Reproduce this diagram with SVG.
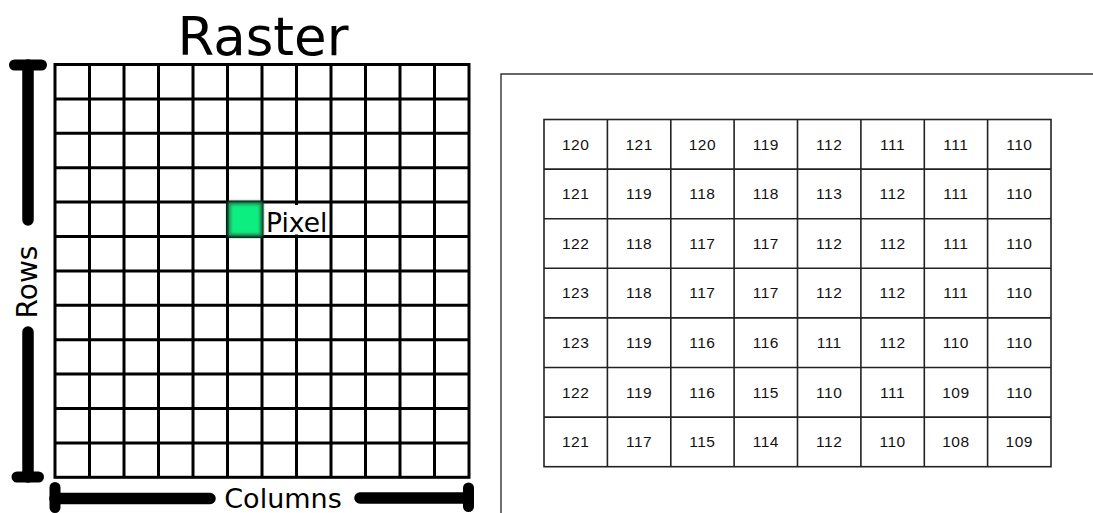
<svg xmlns="http://www.w3.org/2000/svg" width="1093" height="513" viewBox="0 0 1093 513">
<style>
.lbl{font-family:"DejaVu Sans",sans-serif;fill:#000}
.g{stroke:#000;stroke-width:3;fill:none}
.bar{stroke:#000;stroke-linecap:round;fill:none}
.t{stroke:#222;stroke-width:1.6;fill:none}
.n{font-family:"Liberation Sans",Arial,sans-serif;font-size:15.5px;fill:#111;text-anchor:middle;letter-spacing:0.5px}
</style>
<defs>
<filter id="blur1" x="-30%" y="-30%" width="160%" height="160%"><feGaussianBlur stdDeviation="1.6"/></filter>
</defs>
<rect width="1093" height="513" fill="#fff"/>
<g id="raster">
<text class="lbl" x="263" y="55" font-size="53" text-anchor="middle">Raster</text>
<g id="grid" class="g">
<rect x="55" y="64.5" width="414" height="412.8"/>
<path d="M89.5 64.5V477.3M124 64.5V477.3M158.5 64.5V477.3M193 64.5V477.3M227.5 64.5V477.3M262 64.5V477.3M296.5 64.5V477.3M331 64.5V477.3M365.5 64.5V477.3M400 64.5V477.3M434.5 64.5V477.3"/>
<path d="M55 98.9H469M55 133.3H469M55 167.7H469M55 202.1H469M55 236.5H469M55 270.9H469M55 305.3H469M55 339.7H469M55 374.1H469M55 408.5H469M55 442.9H469"/>
</g>
<g id="pixel">
<rect x="227.5" y="201.5" width="35.5" height="35.5" fill="#1a7a4a" filter="url(#blur1)"/>
<rect x="230.5" y="204.5" width="29.5" height="29.5" fill="#10ee80" filter="url(#blur1)"/>
<rect x="265" y="205" width="64" height="29.5" fill="#fff"/>
<text class="lbl" x="266" y="231.5" font-size="26.5">Pixel</text>
</g>
</g>
<g id="rows-axis">
<path class="bar" stroke-width="11.5" d="M28 65V220M28 332V477"/>
<path class="bar" stroke-width="11" d="M14.5 65H41.5M17 477H38.5"/>
<text class="lbl" font-size="28" text-anchor="middle" transform="translate(37,282) rotate(-90)">Rows</text>
</g>
<g id="columns-axis">
<path class="bar" stroke-width="11.5" d="M55 498.5H210M360 498H468"/>
<path class="bar" stroke-width="11" d="M55 487.5V507.5M468.5 488V506.5"/>
<text class="lbl" x="283" y="508" font-size="27" text-anchor="middle">Columns</text>
</g>
<g id="frame">
<path d="M501 513V74H1093" stroke="#333" stroke-width="1.4" fill="none"/>
</g>
<g id="table">
<g class="t">
<rect x="544" y="119.5" width="507" height="347.2"/>
<path d="M607.4 119.5V466.7M670.8 119.5V466.7M734.1 119.5V466.7M797.5 119.5V466.7M860.9 119.5V466.7M924.3 119.5V466.7M987.6 119.5V466.7"/>
<path d="M544 169.1H1051M544 218.7H1051M544 268.3H1051M544 317.9H1051M544 367.5H1051M544 417.1H1051"/>
</g>
<g>
<text class="n" x="575.7" y="149.6">120</text><text class="n" x="639.1" y="149.6">121</text><text class="n" x="702.4" y="149.6">120</text><text class="n" x="765.8" y="149.6">119</text><text class="n" x="829.2" y="149.6">112</text><text class="n" x="892.6" y="149.6">111</text><text class="n" x="955.9" y="149.6">111</text><text class="n" x="1019.3" y="149.6">110</text>
<text class="n" x="575.7" y="199.2">121</text><text class="n" x="639.1" y="199.2">119</text><text class="n" x="702.4" y="199.2">118</text><text class="n" x="765.8" y="199.2">118</text><text class="n" x="829.2" y="199.2">113</text><text class="n" x="892.6" y="199.2">112</text><text class="n" x="955.9" y="199.2">111</text><text class="n" x="1019.3" y="199.2">110</text>
<text class="n" x="575.7" y="248.8">122</text><text class="n" x="639.1" y="248.8">118</text><text class="n" x="702.4" y="248.8">117</text><text class="n" x="765.8" y="248.8">117</text><text class="n" x="829.2" y="248.8">112</text><text class="n" x="892.6" y="248.8">112</text><text class="n" x="955.9" y="248.8">111</text><text class="n" x="1019.3" y="248.8">110</text>
<text class="n" x="575.7" y="298.4">123</text><text class="n" x="639.1" y="298.4">118</text><text class="n" x="702.4" y="298.4">117</text><text class="n" x="765.8" y="298.4">117</text><text class="n" x="829.2" y="298.4">112</text><text class="n" x="892.6" y="298.4">112</text><text class="n" x="955.9" y="298.4">111</text><text class="n" x="1019.3" y="298.4">110</text>
<text class="n" x="575.7" y="348">123</text><text class="n" x="639.1" y="348">119</text><text class="n" x="702.4" y="348">116</text><text class="n" x="765.8" y="348">116</text><text class="n" x="829.2" y="348">111</text><text class="n" x="892.6" y="348">112</text><text class="n" x="955.9" y="348">110</text><text class="n" x="1019.3" y="348">110</text>
<text class="n" x="575.7" y="397.6">122</text><text class="n" x="639.1" y="397.6">119</text><text class="n" x="702.4" y="397.6">116</text><text class="n" x="765.8" y="397.6">115</text><text class="n" x="829.2" y="397.6">110</text><text class="n" x="892.6" y="397.6">111</text><text class="n" x="955.9" y="397.6">109</text><text class="n" x="1019.3" y="397.6">110</text>
<text class="n" x="575.7" y="447.2">121</text><text class="n" x="639.1" y="447.2">117</text><text class="n" x="702.4" y="447.2">115</text><text class="n" x="765.8" y="447.2">114</text><text class="n" x="829.2" y="447.2">112</text><text class="n" x="892.6" y="447.2">110</text><text class="n" x="955.9" y="447.2">108</text><text class="n" x="1019.3" y="447.2">109</text>
</g>
</g>
</svg>
